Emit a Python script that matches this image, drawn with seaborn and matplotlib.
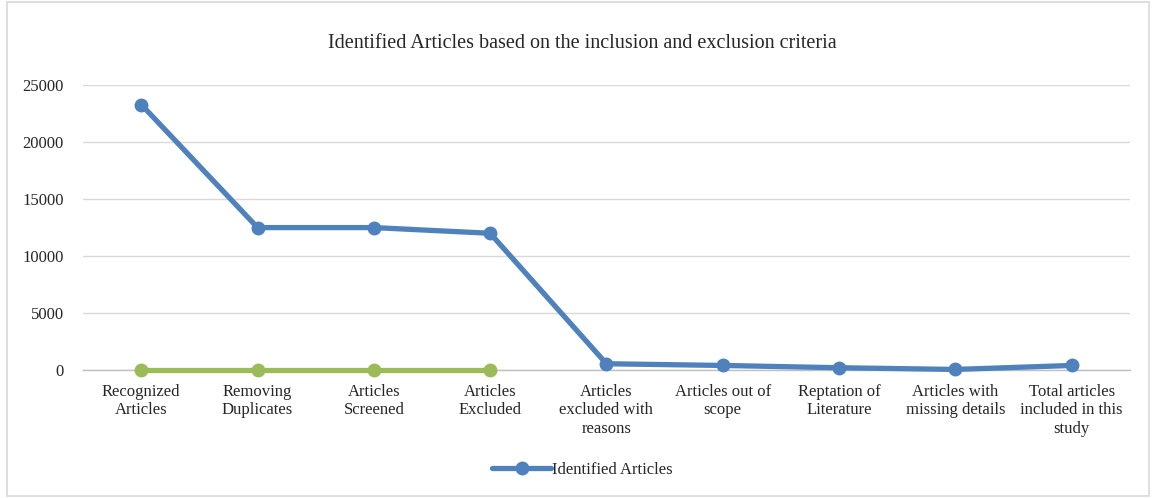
import matplotlib.pyplot as plt
import seaborn as sns
import pandas as pd
import numpy as np

# Data
stages = [
    "Recognized\nArticles", "Removing\nDuplicates", "Articles\nScreened", "Articles\nExcluded",
    "Articles\nexcluded with\nreasons", "Articles out of\nscope", "Reptation of\nLiterature",
    "Articles with\nmissing details", "Total articles\nincluded in this\nstudy",
]
identified = [23300, 12500, 12500, 12000, 550, 400, 200, 50, 400]
second_series = [0, 0, 0, 0, np.nan, np.nan, np.nan, np.nan, np.nan]

df = pd.DataFrame({"pos": np.arange(len(stages)), "Identified Articles": identified,
                   "Other": second_series})

sns.set_style("white")
plt.rcParams["font.family"] = ["Liberation Serif", "DejaVu Serif"]

fig = plt.figure(figsize=(11.54, 4.98), dpi=100)
ax = fig.add_axes([0.072, 0.257, 0.907, 0.572])

sns.lineplot(data=df, x="pos", y="Identified Articles", ax=ax, color="#4f81bd", lw=3.8,
             marker="o", markersize=10, markeredgewidth=0, label="Identified Articles")
sns.lineplot(data=df, x="pos", y="Other", ax=ax, color="#9bbb59", lw=3.8,
             marker="o", markersize=10, markeredgewidth=0, label="_nolegend_")
for line in ax.lines:
    line.set_clip_on(False)
    line.set_zorder(5)

ax.set_xlim(-0.5, len(stages) - 0.5)
ax.set_ylim(0, 25000)
ax.set_yticks(np.arange(0, 25001, 5000))
ax.set_xticks(np.arange(len(stages)))
ax.set_xticklabels(stages, fontsize=12, linespacing=1.2)
ax.set_xticks(np.arange(-0.5, len(stages)), minor=True)
ax.tick_params(axis="x", which="major", length=0, pad=10)
ax.tick_params(axis="x", which="minor", length=5, color="#bfbfbf", width=1)
ax.tick_params(axis="y", length=0, labelsize=12, pad=14)
ax.yaxis.grid(True, color="#d9d9d9", lw=1)
ax.set_axisbelow(True)
for s in ["top", "right", "left"]:
    ax.spines[s].set_visible(False)
ax.spines["bottom"].set_color("#bfbfbf")
ax.spines["bottom"].set_linewidth(1)
ax.set_xlabel("")
ax.set_ylabel("")

fig.text(0.505, 0.913, "Identified Articles based on the inclusion and exclusion criteria",
         ha="center", va="center", fontsize=14.5)

ax.legend(loc="center", bbox_to_anchor=(0.505, 0.056), bbox_transform=fig.transFigure,
          frameon=False, fontsize=12, handlelength=3.5, handletextpad=0.1)

# chart border
fig.patches.append(plt.Rectangle((0.006, 0.004), 0.99, 0.992, transform=fig.transFigure,
                                 fill=False, edgecolor="#d9d9d9", lw=1.2))

fig.savefig("out.png", dpi=100)
